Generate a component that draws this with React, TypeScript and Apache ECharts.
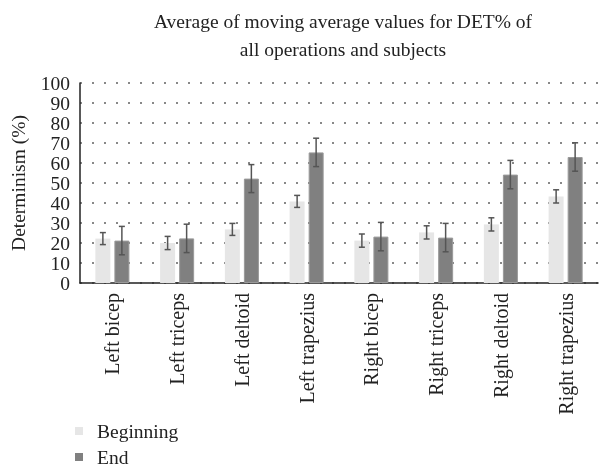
import React, { useEffect, useRef } from "react";
import * as echarts from "echarts";

const categories = [
  "Left bicep",
  "Left triceps",
  "Left deltoid",
  "Left trapezius",
  "Right bicep",
  "Right triceps",
  "Right deltoid",
  "Right trapezius",
];
const beginning = [22.2, 20.0, 26.8, 40.8, 21.2, 25.3, 29.3, 43.3];
const beginningErr = [3.0, 3.3, 3.0, 3.0, 3.3, 3.3, 3.3, 3.3];
const end = [21.2, 22.3, 52.2, 65.3, 23.2, 22.7, 54.2, 63.0];
const endErr = [7.1, 7.1, 7.0, 7.1, 7.1, 7.1, 7.1, 7.1];
const yTicks = [0, 10, 20, 30, 40, 50, 60, 70, 80, 90, 100];

const FONT = "'Liberation Serif', 'DejaVu Serif', serif";
const FS = 19.5;

export default function App() {
  const ref = useRef<HTMLDivElement>(null);
  useEffect(() => {
    if (!ref.current) return;
    const chart = echarts.init(ref.current, undefined, { renderer: "svg" });

    const errSeries = (vals: number[], errs: number[], offset: number, name: string) => ({
      type: "custom",
      name,
      silent: true,
      z: 10,
      data: vals.map((v, i) => [i, v - errs[i], v + errs[i]]),
      encode: { x: 0, y: [1, 2] },
      renderItem: (params: any, api: any) => {
        const idx = api.value(0);
        const lo = api.coord([idx, api.value(1)]);
        const hi = api.coord([idx, api.value(2)]);
        const x = lo[0] + offset;
        const cap = 3;
        const style = { stroke: "#555555", lineWidth: 1.5, fill: "none" };
        return {
          type: "group",
          children: [
            { type: "line", shape: { x1: x, y1: hi[1], x2: x, y2: lo[1] }, style },
            { type: "line", shape: { x1: x - cap, y1: hi[1], x2: x + cap, y2: hi[1] }, style },
            { type: "line", shape: { x1: x - cap, y1: lo[1], x2: x + cap, y2: lo[1] }, style },
          ],
        };
      },
    });

    const legendItem = (name: string, top: number) => ({
      data: [name],
      orient: "vertical",
      left: 75,
      top,
      padding: 0,
      itemWidth: 8,
      itemHeight: 8,
      icon: "rect",
      selectedMode: false,
      itemStyle: { borderWidth: 0 },
      textStyle: {
        fontFamily: FONT,
        fontSize: FS,
        color: "#222",
        padding: [0, 0, 0, 9],
      },
    });

    chart.setOption({
      animation: false,
      title: {
        text: "Average of moving average values for DET% of\nall operations and subjects",
        left: 338,
        top: 2,
        textAlign: "center",
        textStyle: {
          fontFamily: FONT,
          fontWeight: "normal",
          fontSize: FS,
          lineHeight: 28,
          color: "#222",
        },
      },
      legend: [legendItem("Beginning", 421), legendItem("End", 447)],
      grid: { left: 79, right: 8, top: 83, bottom: 185, containLabel: false },
      xAxis: {
        type: "category",
        data: categories,
        axisLine: { lineStyle: { color: "#222", width: 1.5 } },
        axisTick: { show: false },
        axisLabel: {
          rotate: 90,
          margin: 10,
          fontFamily: FONT,
          fontSize: 20,
          color: "#222",
        },
      },
      yAxis: {
        type: "value",
        min: yTicks[0],
        max: yTicks[yTicks.length - 1],
        interval: 10,
        name: "Determinism (%)",
        nameLocation: "middle",
        nameGap: 52,
        nameTextStyle: { fontFamily: FONT, fontSize: FS, color: "#222" },
        axisLine: { show: true, lineStyle: { color: "#222", width: 1.5 } },
        axisTick: { show: false },
        axisLabel: {
          margin: 10,
          fontFamily: FONT,
          fontSize: FS,
          color: "#222",
        },
        splitLine: {
          show: true,
          lineStyle: { type: [2, 10], color: "#888", width: 2 },
        },
      },
      series: [
        {
          name: "Beginning",
          type: "bar",
          data: beginning,
          barWidth: 15,
          barGap: "27%",
          itemStyle: { color: "#e6e6e6" },
        },
        {
          name: "End",
          type: "bar",
          data: end,
          barWidth: 15,
          itemStyle: { color: "#808080", borderColor: "#9a9a9a", borderWidth: 1 },
        },
        errSeries(beginning, beginningErr, -9.5, "errB"),
        errSeries(end, endErr, 9.5, "errE"),
      ],
    });
    return () => chart.dispose();
  }, []);
  return <div ref={ref} style={{ width: 606, height: 468, position: "fixed", left: 0, top: 0 }} />;
}
